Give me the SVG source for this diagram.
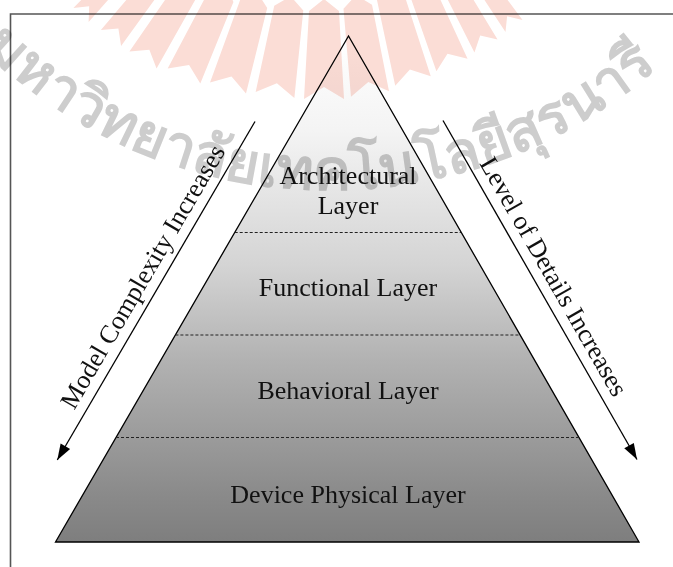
<svg xmlns="http://www.w3.org/2000/svg" xmlns:xlink="http://www.w3.org/1999/xlink" width="673" height="567" viewBox="0 0 673 567">
  <style>
    .label { font-family: "Liberation Serif", "Times New Roman", serif; font-size: 26px; fill: #111; }
    .edge { fill: none; stroke: #000; stroke-width: 1.3; }
    .divider { fill: none; stroke: #222; stroke-width: 1.2; stroke-dasharray: 3 2; }
    .frame { fill: none; stroke: #555; stroke-width: 1.6; }
    .ray { fill: #fbddd6; }
    .seal-text { font-family: "Noto Sans", "DejaVu Sans", sans-serif; font-weight: bold; font-size: 57px; fill: #cdcdcd; }
    .mark { mix-blend-mode: multiply; }
  </style>
  <defs>
    <linearGradient id="shade" gradientUnits="userSpaceOnUse" x1="0" y1="36" x2="0" y2="542">
      <stop offset="0" stop-color="#ffffff"/>
      <stop offset="0.186" stop-color="#f4f4f4"/>
      <stop offset="0.453" stop-color="#d4d4d4"/>
      <stop offset="0.640" stop-color="#b2b2b2"/>
      <stop offset="0.907" stop-color="#8a8a8a"/>
      <stop offset="1" stop-color="#7e7e7e"/>
    </linearGradient>
    <marker id="head" markerUnits="userSpaceOnUse" markerWidth="18" markerHeight="12" viewBox="-17 -6 18 12" refX="0" refY="0" orient="auto">
      <path d="M0,0 L-16,-5.5 L-16,5.5 Z" fill="#000"/>
    </marker>
    <!-- one ray of the seal: notched foot, pointed head -->
    <polygon id="ray" points="-20,0 0,-12 20,0 15,-88 0,-100 -15,-88"/>
    <path id="arc" d="M -110,-72.5 A 500 500 0 0 0 770,-72.5"/>
  </defs>

  <rect x="0" y="0" width="673" height="567" fill="#fff"/>

  <!-- page frame -->
  <path class="frame" d="M10.5,567 V14 H673"/>

  <!-- pyramid body with layer dividers -->
  <g id="pyramid">
    <polygon points="348.5,36 55.5,542 639,542" fill="url(#shade)" stroke="#000" stroke-width="1.3"/>
    <line class="divider" x1="234.7" y1="232.5" x2="461.3" y2="232.5"/>
    <line class="divider" x1="175.4" y1="335" x2="520.2" y2="335"/>
    <line class="divider" x1="116" y1="437.5" x2="579" y2="437.5"/>
  </g>

  <g id="layer-architectural">
    <text class="label" x="348" text-anchor="middle"><tspan x="348" y="183.5">Architectural</tspan><tspan x="348" y="213.5">Layer</tspan></text>
  </g>
  <g id="layer-functional">
    <text class="label" x="348" y="296" text-anchor="middle">Functional Layer</text>
  </g>
  <g id="layer-behavioral">
    <text class="label" x="348" y="399" text-anchor="middle">Behavioral Layer</text>
  </g>
  <g id="layer-device">
    <text class="label" x="348" y="502.5" text-anchor="middle">Device Physical Layer</text>
  </g>

  <!-- side arrows -->
  <g id="connectors">
    <line class="edge" x1="255" y1="121.5" x2="57.3" y2="460" marker-end="url(#head)"/>
    <text class="label" text-anchor="middle" transform="translate(150,281) rotate(-59.67)">Model Complexity Increases</text>
    <line class="edge" x1="443" y1="120.5" x2="637" y2="459.5" marker-end="url(#head)"/>
    <text class="label" text-anchor="middle" transform="translate(546.3,280.8) rotate(60.2)">Level of Details Increases</text>
  </g>

  <!-- university seal overlay -->
  <g id="seal" class="mark">
    <g class="ray">
      <use xlink:href="#ray" transform="translate(81,15) rotate(43) scale(0.52,1)"/>
      <use xlink:href="#ray" transform="translate(111,38) rotate(38) scale(0.64,1)"/>
      <use xlink:href="#ray" transform="translate(143,60) rotate(32) scale(0.80,1)"/>
      <use xlink:href="#ray" transform="translate(184,76) rotate(25) scale(0.90,1)"/>
      <use xlink:href="#ray" transform="translate(228,88) rotate(17) scale(0.94,1)"/>
      <use xlink:href="#ray" transform="translate(275,95) rotate(9) scale(0.98,1)"/>
      <use xlink:href="#ray" transform="translate(324,99)"/>
      <use xlink:href="#ray" transform="translate(370,94) rotate(-8) scale(0.96,1)"/>
      <use xlink:href="#ray" transform="translate(413,81) rotate(-15) scale(0.92,1)"/>
      <use xlink:href="#ray" transform="translate(452,65) rotate(-22) scale(0.84,1)"/>
      <use xlink:href="#ray" transform="translate(486,46) rotate(-29) scale(0.66,1)"/>
      <use xlink:href="#ray" transform="translate(514,26) rotate(-35) scale(0.52,1)"/>
    </g>
    <text class="seal-text"><textPath xlink:href="#arc" startOffset="48.7%" text-anchor="middle">มหาวิทยาลัยเทคโนโลยีสุรนารี</textPath></text>
  </g>
</svg>
